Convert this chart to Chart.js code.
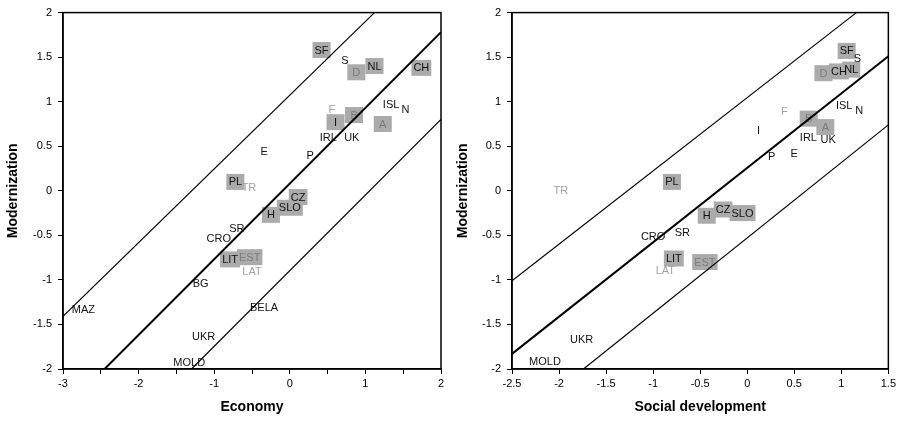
<!DOCTYPE html>
<html>
<head>
<meta charset="utf-8">
<script src="https://cdn.jsdelivr.net/npm/chart.js@4/dist/chart.umd.min.js"></script>
<style>
  body { margin: 0; background: #fff; }
  #wrap { position: relative; width: 899px; height: 421px; }
  #left { position: absolute; left: 0; top: 0; }
  #right { position: absolute; left: 450px; top: 0; }
</style>
</head>
<body>
<div id="wrap">
  <canvas id="left" width="450" height="421"></canvas>
  <canvas id="right" width="449" height="421"></canvas>
</div>
<script>
// mark: '' plain, 'g' grey text, 'b' boxed, 'bg' boxed with grey text
var ecoCodes = ['SF','S','D','NL','CH','ISL','N','F','B','I','A','IRL','UK','E','P','PL','TR','CZ','SLO','H','SR','CRO','LIT','EST','LAT','BG','MAZ','BELA','UKR','MOLD'];
var ecoX = [0.42,0.73,0.88,1.12,1.74,1.34,1.53,0.555,0.85,0.605,1.23,0.51,0.82,-0.34,0.27,-0.72,-0.54,0.11,0.0,-0.25,-0.70,-0.94,-0.79,-0.53,-0.50,-1.18,-2.73,-0.34,-1.14,-1.33];
var ecoY = [1.58,1.46,1.33,1.40,1.38,0.965,0.91,0.91,0.85,0.77,0.75,0.60,0.60,0.44,0.40,0.10,0.035,-0.07,-0.19,-0.27,-0.42,-0.53,-0.77,-0.745,-0.90,-1.04,-1.33,-1.31,-1.64,-1.93];
var ecoMark = ['b','','bg','b','b','','','g','bg','b','bg','','','','','b','g','b','b','b','','','b','bg','g','','','','',''];

var socCodes = ['SF','S','D','CH','NL','ISL','N','F','B','A','I','IRL','UK','E','P','PL','TR','CZ','SLO','H','SR','CRO','LIT','EST','LAT','UKR','MOLD'];
var socX = [1.057,1.17,0.81,0.975,1.105,1.03,1.19,0.395,0.654,0.83,0.12,0.65,0.86,0.50,0.26,-0.80,-1.98,-0.256,-0.05,-0.43,-0.69,-1.0,-0.78,-0.45,-0.87,-1.76,-2.15];
var socY = [1.57,1.49,1.32,1.34,1.36,0.955,0.90,0.89,0.81,0.715,0.68,0.60,0.58,0.42,0.38,0.10,0.0,-0.21,-0.25,-0.28,-0.47,-0.51,-0.76,-0.80,-0.89,-1.67,-1.92];
var socMark = ['b','','bg','b','b','','','g','bg','bg','','','','','','b','g','b','b','b','','','b','bg','g','',''];

// band lines: [x1, y1, x2, y2]
var ecoUpper = [-3, -1.41, 1.12, 2];
var ecoMiddle = [-2.45, -2, 2, 1.78];
var ecoLower = [-1.30, -2, 2, 0.80];
var socUpper = [-2.5, -1.01, 1.16, 2];
var socMiddle = [-2.5, -1.83, 1.5, 1.51];
var socLower = [-1.74, -2, 1.5, 0.74];

var ecoTicksX = [-3, 2];
var socTicksX = [-2.5, 1.5];
var ticksY = [-2, 2];

var FONT = "'Liberation Sans', Arial, sans-serif";

function points(codes, xs, ys, marks) {
    return codes.map(function (c, i) {
        return { x: xs[i], y: ys[i], code: c, mark: marks[i] };
    });
}

function seg(a) {
    return [{ x: a[0], y: a[1] }, { x: a[2], y: a[3] }];
}

var labelPlugin = {
    id: 'countryLabels',
    beforeDatasetsDraw: function (chart) {
        var ctx = chart.ctx;
        var xs = chart.scales.x, ys = chart.scales.y;
        var pts = chart.data.datasets[0].data;
        ctx.save();
        ctx.font = '11px ' + FONT;
        ctx.textAlign = 'center';
        ctx.textBaseline = 'middle';
        // boxes first, then all the texts on top
        pts.forEach(function (p) {
            if (p.mark !== 'b' && p.mark !== 'bg') return;
            var px = xs.getPixelForValue(p.x);
            var py = ys.getPixelForValue(p.y);
            var w = Math.max(18, ctx.measureText(p.code).width + 4);
            ctx.fillStyle = '#ababab';
            ctx.fillRect(px - w / 2, py - 8, w, 16);
        });
        pts.forEach(function (p) {
            var px = xs.getPixelForValue(p.x);
            var py = ys.getPixelForValue(p.y);
            if (p.mark === 'bg') ctx.fillStyle = '#7c7c7c';
            else if (p.mark === 'g') ctx.fillStyle = '#a3a3a3';
            else ctx.fillStyle = '#111';
            ctx.fillText(p.code, px, py + 0.5);
        });
        ctx.restore();
    },
    afterDatasetsDraw: function (chart) {
        var a = chart.chartArea, ctx = chart.ctx;
        ctx.save();
        ctx.strokeStyle = '#000';
        ctx.lineWidth = 1.5;
        ctx.strokeRect(a.left, a.top, a.right - a.left, a.bottom - a.top);
        ctx.restore();
    }
};

function fmt(v) {
    return String(Math.round(v * 10) / 10);
}

function makeChart(id, pts, lines, xRange, xTitle, yWidth, rightPad, minorX) {
    var lineSets = lines.map(function (l, i) {
        return {
            type: 'line',
            data: seg(l),
            borderColor: '#000',
            borderWidth: i === 1 ? 2 : 1.2,
            pointRadius: 0,
            fill: false,
            clip: 0
        };
    });
    return new Chart(document.getElementById(id), {
        type: 'scatter',
        data: {
            datasets: [{ data: pts, pointRadius: 0, pointHoverRadius: 0 }].concat(lineSets)
        },
        options: {
            responsive: false,
            animation: false,
            devicePixelRatio: 1,
            layout: { padding: { top: 8, right: rightPad, left: 0, bottom: 0 } },
            plugins: { legend: { display: false }, tooltip: { enabled: false } },
            scales: {
                x: {
                    type: 'linear',
                    min: xRange[0], max: xRange[1],
                    afterFit: function (s) { s.height = 52; },
                    border: { display: true, color: '#000', width: 1.5 },
                    grid: { display: true, drawOnChartArea: false, drawTicks: true, tickLength: 5, color: '#000' },
                    ticks: {
                        stepSize: 0.5, padding: 3, color: '#000', maxRotation: 0, autoSkip: false,
                        font: { family: FONT, size: 11 },
                        callback: function (v) {
                            if (minorX && !Number.isInteger(Math.round(v * 10) / 10)) return '';
                            return fmt(v);
                        }
                    },
                    title: { display: true, text: xTitle, color: '#000', padding: { top: 0, bottom: 5 },
                             font: { family: FONT, size: 14, weight: 'bold' } }
                },
                y: {
                    type: 'linear',
                    min: ticksY[0], max: ticksY[1],
                    afterFit: function (s) { s.width = yWidth; },
                    border: { display: true, color: '#000', width: 1.5 },
                    grid: { display: true, drawOnChartArea: false, drawTicks: true, tickLength: 5, color: '#000' },
                    ticks: {
                        stepSize: 0.5, padding: 6, color: '#000',
                        font: { family: FONT, size: 11 },
                        callback: fmt
                    },
                    title: { display: true, text: 'Modernization', color: '#000', padding: { top: 5, bottom: 0 },
                             font: { family: FONT, size: 14, weight: 'bold' } }
                }
            }
        },
        plugins: [labelPlugin]
    });
}

makeChart('left', points(ecoCodes, ecoX, ecoY, ecoMark), [ecoUpper, ecoMiddle, ecoLower],
          ecoTicksX, 'Economy', 63, 9, true);
makeChart('right', points(socCodes, socX, socY, socMark), [socUpper, socMiddle, socLower],
          socTicksX, 'Social development', 62, 8, false);
</script>
</body>
</html>
